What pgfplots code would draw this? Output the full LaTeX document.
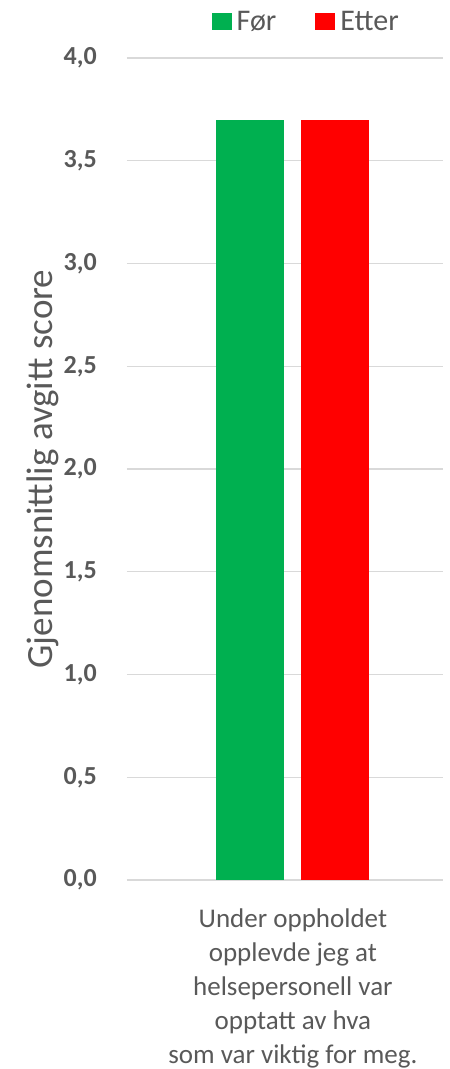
\documentclass[border=0pt]{standalone}
\usepackage{fontspec}
\setmainfont{Carlito}
\usepackage{pgfplots}
\pgfplotsset{compat=1.18}
\definecolor{txtgray}{HTML}{595959}
\definecolor{gridgray}{HTML}{D9D9D9}
\definecolor{forgreen}{HTML}{00B050}
\definecolor{etterred}{HTML}{FF0000}
\begin{document}
\begin{tikzpicture}
\useasboundingbox (-127bp,-189bp) rectangle (323bp,822bp+58bp);
\begin{axis}[
  at={(0,0)}, anchor=south west,
  scale only axis,
  width=316bp, height=822bp,
  ybar, bar width=68bp, ybar=17bp,
  xmin=-0.525, xmax=0.475,
  ymin=0, ymax=4,
  ytick={0,0.5,...,4},
  xtick={0},
  xticklabels={{Under oppholdet\\opplevde jeg at\\helsepersonell var\\opptatt av hva\\som var viktig for meg.}},
  /pgf/number format/.cd, fixed, fixed zerofill, precision=1, use comma, assume math mode=true,
  /pgfplots/.cd,
  axis line style={draw=none},
  major tick length=0pt,
  ymajorgrids,
  grid style={gridgray, line width=1.2bp},
  yticklabel style={font=\fontsize{26bp}{30bp}\selectfont\bfseries, text=txtgray, inner sep=0pt, xshift=-30bp},
  xticklabel style={font=\fontsize{27bp}{34bp}\selectfont, text=txtgray, align=center, inner sep=0pt, yshift=-29bp},
  ylabel={Gjenomsnittlig avgitt score},
  ylabel style={at={(axis description cs:0,0.5)}, anchor=center, yshift=84bp, font=\fontsize{37bp}{40bp}\selectfont, text=txtgray},
  legend style={draw=none, fill=none, at={(0.572,1)}, anchor=center, yshift=36bp, inner sep=0pt,
    legend columns=-1, font=\fontsize{30bp}{32bp}\selectfont, text=txtgray,
    /tikz/every even column/.append style={column sep=34bp},
    nodes={inner xsep=5bp, inner ysep=2bp}},
  legend image code/.code={\fill[#1,draw=none] (0bp,-8.5bp) rectangle (20bp,8.5bp);},
]
\addplot[fill=forgreen, draw=none] coordinates {(0,3.7)};
\addplot[fill=etterred, draw=none] coordinates {(0,3.7)};
\legend{Før,Etter}
\end{axis}
\end{tikzpicture}
\end{document}
